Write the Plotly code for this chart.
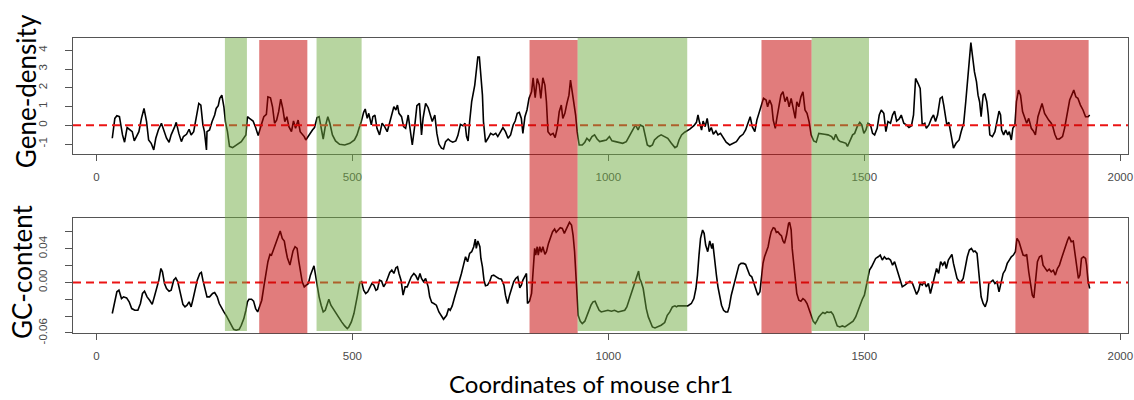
import plotly.graph_objects as go

# ---------------- data ----------------
gene_x = [31,36,40,45,51,55,60,65,70,74,78,83,88,93,98,102,107,112,116,121,127,132,137,142,146,153,156,161,166,170,176,181,185,190,196,200,204,208,211,215,216,221,226,231,234,238,241,245,249,252,256,260,266,273,283,292,295,299,306,311,316,322,327,332,335,340,344,348,352,356,360,364,368,372,376,381,385,389,394,398,402,406,409,413,418,422,426,431,435,439,443,447,452,456,461,467,475,485,495,504,509,513,517,522,525,529,532,537,540,544,548,553,558,563,568,573,577,581,585,588,591,596,600,604,609,613,617,622,626,631,635,638,643,648,652,656,661,665,669,674,678,682,687,691,696,702,706,711,716,720,723,726,729,733,739,742,745,748,750,754,756,760,765,770,775,780,784,789,794,799,804,809,814,818,822,826,830,833,837,841,845,850,853,857,861,865,868,872,876,879,882,887,892,896,900,904,908,911,915,919,923,926,930,932,936,939,943,949,954,958,963,968,973,978,983,989,996,1002,1007,1014,1021,1028,1035,1040,1045,1050,1053,1058,1062,1068,1071,1076,1081,1086,1090,1097,1103,1110,1116,1123,1130,1134,1138,1143,1149,1159,1167,1172,1175,1178,1182,1185,1189,1193,1197,1201,1205,1210,1214,1219,1224,1230,1237,1244,1250,1257,1263,1268,1273,1277,1281,1286,1290,1295,1299,1303,1308,1311,1315,1319,1322,1326,1329,1333,1337,1341,1345,1349,1353,1357,1361,1365,1368,1372,1376,1380,1384,1388,1392,1396,1401,1406,1411,1417,1422,1429,1436,1440,1444,1449,1453,1458,1464,1467,1471,1477,1481,1486,1491,1495,1499,1503,1507,1512,1516,1520,1525,1529,1533,1538,1542,1546,1551,1555,1559,1563,1568,1572,1577,1582,1587,1592,1596,1600,1605,1609,1613,1618,1621,1626,1631,1635,1639,1643,1648,1652,1655,1659,1661,1665,1670,1674,1679,1685,1689,1694,1698,1702,1705,1708,1711,1715,1719,1722,1725,1728,1732,1735,1739,1742,1745,1750,1755,1759,1763,1766,1768,1772,1776,1780,1783,1787,1790,1794,1797,1801,1805,1809,1813,1817,1821,1826,1830,1834,1839,1844,1847,1852,1857,1860,1865,1868,1872,1876,1881,1887,1891,1896,1901,1905,1909,1913,1917,1922,1927,1932,1937,1940]
gene_y = [-0.69,0.37,0.51,0.46,-0.51,-0.90,-0.12,-0.21,-0.34,-0.83,-0.60,-0.34,0.37,0.90,0.20,-0.78,-0.96,-1.31,-0.69,-0.25,0.11,-0.34,-0.69,-0.90,-0.51,-0.07,0.16,-0.43,-0.87,-0.60,-0.48,-0.21,-0.51,-0.34,0.55,1.17,1.08,0.02,-0.34,-1.31,-0.34,-0.25,0.20,0.55,0.90,1.05,1.44,1.61,0.99,0.20,-0.34,-1.13,-1.19,-1.05,-0.87,-0.51,0.46,0.37,0.23,-0.12,-0.55,0.02,0.46,0.59,1.52,1.47,0.99,0.11,0.28,0.73,1.40,0.90,0.20,0.46,-0.07,-0.34,0.23,-0.16,0.28,-0.34,-0.48,-0.60,-0.78,-0.60,-0.43,-0.25,-0.12,0.41,0.46,-0.25,-0.73,-0.07,0.46,0.11,-0.51,-0.83,-1.01,-1.05,-0.96,-0.78,-0.51,-0.16,0.16,0.69,0.87,0.37,0.64,0.02,0.46,0.55,-0.16,-0.51,0.11,-0.07,-0.34,0.16,0.59,0.99,0.82,1.08,0.64,0.46,-0.07,-0.16,0.55,-0.16,-1.05,0.02,1.05,1.17,-0.51,0.37,1.17,0.94,0.55,0.20,0.55,-0.43,-1.00,-1.22,-1.26,-0.87,-0.73,-0.83,-0.90,-0.83,-0.55,0.05,-0.02,0.11,-0.60,-0.83,0.20,1.26,2.15,3.03,3.65,3.65,2.94,1.61,0.20,-0.90,-0.69,-0.43,-0.51,-0.43,-0.60,-0.34,-0.12,-0.34,-0.69,-0.51,0.02,0.23,0.64,0.69,0.37,-0.43,0.46,0.82,1.44,1.79,2.54,1.47,2.50,2.15,1.44,2.54,2.15,1.26,-0.34,-0.51,-0.43,-0.66,-0.16,0.73,1.08,0.37,0.64,1.17,1.61,2.41,1.61,1.44,0.55,-0.34,-1.05,-1.05,-0.90,-0.69,-0.83,-0.60,-0.51,-0.73,-0.87,-0.83,-0.78,-0.60,-0.83,-0.87,-0.90,-0.96,-0.87,-0.60,-0.34,-0.07,0.02,-0.25,0.02,-0.07,-0.51,-1.05,-1.13,-1.05,-0.78,-0.60,-0.51,-0.60,-0.69,-0.96,-1.19,-1.13,-0.78,-0.51,-0.37,-0.20,-0.02,0.16,0.55,0.16,-0.25,0.23,-0.07,0.37,-0.34,-0.12,-0.48,-0.30,-0.51,-0.43,-0.66,-0.90,-1.05,-0.96,-0.87,-0.60,-0.48,-0.25,0.20,0.46,-0.07,-0.34,0.28,0.73,1.08,1.44,1.35,0.99,1.35,1.08,0.28,-0.16,0.37,0.90,1.61,1.79,1.26,1.52,0.99,1.44,0.90,0.37,1.26,0.99,1.52,1.79,0.82,0.64,0.20,-0.51,-0.83,-0.90,-0.43,-0.48,-0.48,-0.51,-0.60,-0.78,-0.48,-0.78,-0.87,-0.90,-0.96,-1.13,-0.87,-0.51,-0.43,-0.07,0.16,0.02,-0.43,-0.25,0.11,0.02,-0.43,-0.51,-0.16,0.55,0.82,0.64,-0.34,0.20,0.11,0.55,0.76,0.23,0.34,0.55,0.11,0.02,-0.12,-0.02,0.55,2.50,2.23,1.97,0.02,0.11,-0.16,0.02,0.37,0.55,0.20,0.55,1.44,1.52,1.08,0.37,0.02,0.16,-0.51,-1.22,-0.96,-0.78,-0.34,0.11,1.26,2.68,3.74,4.41,3.74,2.85,2.32,1.61,1.26,0.46,1.61,1.70,1.26,0.55,-0.51,-0.60,-0.34,0.20,0.76,0.55,-0.25,-0.51,-0.25,-0.51,-0.34,-0.78,-0.16,0.02,1.26,1.88,1.61,0.73,0.37,0.11,0.37,-0.16,-0.30,-0.51,0.46,0.99,1.17,0.64,0.37,0.28,0.11,-0.07,-0.48,-0.73,-0.73,-0.60,-0.16,0.55,1.35,1.61,1.88,1.52,1.44,1.08,0.82,0.46,0.46,0.55]

gc_x = [31,36,40,44,49,53,59,64,69,75,81,86,90,94,99,104,109,114,118,122,126,129,133,137,142,146,151,155,159,163,166,169,173,177,181,185,189,193,197,202,205,208,212,216,221,227,231,236,240,244,249,254,259,264,268,273,279,283,288,292,295,298,303,307,311,315,319,323,327,331,335,339,342,345,349,353,357,359,363,367,370,373,378,381,384,388,392,395,398,402,406,410,414,418,422,425,428,431,435,439,443,447,450,454,458,464,469,474,479,485,490,493,498,503,507,510,514,518,522,526,530,534,538,542,546,549,553,557,561,565,569,573,577,581,585,588,591,595,599,603,607,611,615,620,624,628,632,635,639,643,648,651,655,659,664,669,674,678,684,688,691,695,699,703,708,713,717,721,725,729,733,737,740,742,745,749,751,754,757,760,764,768,772,776,781,786,791,796,799,803,807,811,815,819,823,827,830,833,837,840,842,846,850,853,856,858,861,863,866,869,872,876,879,883,887,891,895,898,902,906,910,914,918,921,924,928,931,934,936,939,941,945,949,954,958,962,966,970,974,978,982,986,993,999,1006,1012,1019,1025,1032,1036,1040,1045,1050,1053,1056,1059,1061,1064,1068,1071,1074,1078,1082,1086,1091,1097,1103,1110,1115,1120,1125,1130,1133,1136,1142,1149,1155,1162,1167,1171,1174,1177,1180,1184,1187,1190,1194,1198,1202,1204,1208,1211,1214,1217,1221,1225,1229,1233,1236,1240,1244,1247,1251,1255,1259,1264,1268,1272,1276,1280,1284,1288,1292,1296,1299,1302,1305,1309,1312,1315,1318,1322,1325,1328,1331,1335,1338,1341,1344,1348,1352,1354,1357,1359,1362,1365,1368,1372,1376,1380,1384,1388,1392,1396,1400,1404,1408,1411,1415,1419,1423,1427,1431,1435,1439,1443,1447,1452,1457,1462,1467,1473,1478,1483,1488,1492,1496,1500,1504,1507,1510,1514,1518,1522,1527,1531,1535,1539,1543,1547,1551,1555,1559,1563,1566,1570,1574,1579,1583,1589,1594,1598,1602,1606,1609,1613,1617,1621,1625,1629,1633,1637,1641,1645,1649,1653,1657,1660,1664,1668,1671,1674,1678,1681,1685,1689,1693,1697,1701,1705,1709,1713,1716,1720,1723,1726,1728,1732,1736,1740,1743,1747,1751,1755,1759,1763,1767,1771,1775,1779,1783,1787,1791,1795,1798,1802,1806,1810,1814,1817,1821,1825,1828,1831,1834,1838,1842,1846,1849,1853,1857,1861,1865,1869,1873,1877,1881,1885,1889,1893,1897,1900,1904,1908,1912,1915,1918,1921,1924,1928,1932,1934,1937,1940]
gc_y = [-0.0369,-0.0211,-0.0111,-0.0092,-0.0191,-0.0171,-0.0183,-0.0230,-0.0310,-0.0330,-0.0330,-0.0250,-0.0131,-0.0104,-0.0171,-0.0211,-0.0260,-0.0151,-0.0052,0.0027,0.0166,0.0127,-0.0012,-0.0072,-0.0104,-0.0092,0.0027,0.0055,0.0008,-0.0111,-0.0171,-0.0260,-0.0290,-0.0270,-0.0230,-0.0290,-0.0191,-0.0092,0.0027,0.0107,0.0119,0.0027,-0.0092,-0.0171,-0.0171,-0.0131,-0.0119,-0.0171,-0.0250,-0.0302,-0.0350,-0.0397,-0.0460,-0.0516,-0.0556,-0.0567,-0.0556,-0.0508,-0.0429,-0.0330,-0.0230,-0.0199,-0.0199,-0.0222,-0.0310,-0.0350,-0.0290,-0.0211,-0.0052,0.0127,0.0246,0.0333,0.0325,0.0373,0.0444,0.0504,0.0563,0.0611,0.0523,0.0492,0.0385,0.0293,0.0206,0.0285,0.0373,0.0424,0.0404,0.0266,0.0146,0.0008,-0.0052,-0.0032,-0.0012,0.0087,0.0158,0.0198,0.0087,-0.0032,-0.0171,-0.0270,-0.0350,-0.0330,-0.0270,-0.0199,-0.0270,-0.0330,-0.0369,-0.0421,-0.0468,-0.0516,-0.0548,-0.0528,-0.0468,-0.0369,-0.0260,-0.0151,-0.0012,0.0008,-0.0092,-0.0131,-0.0111,-0.0052,-0.0012,-0.0032,-0.0092,-0.0080,0.0027,0.0015,-0.0052,-0.0012,0.0067,0.0119,0.0146,0.0107,0.0174,0.0186,0.0107,0.0027,-0.0151,-0.0052,-0.0052,0.0015,0.0067,0.0107,0.0079,0.0027,0.0107,0.0047,0.0008,0.0047,-0.0052,-0.0171,-0.0238,-0.0250,-0.0270,-0.0350,-0.0409,-0.0437,-0.0390,-0.0310,-0.0330,-0.0278,-0.0191,-0.0111,0.0008,0.0107,0.0206,0.0305,0.0246,0.0345,0.0365,0.0424,0.0515,0.0404,0.0492,0.0424,0.0285,0.0186,0.0027,-0.0040,-0.0032,0.0008,0.0079,0.0087,0.0067,0.0047,0.0039,-0.0032,-0.0151,-0.0250,-0.0151,-0.0080,0.0008,0.0047,0.0067,-0.0064,-0.0032,0.0027,0.0067,0.0107,-0.0250,-0.0222,-0.0131,0.0206,0.0404,0.0325,0.0424,0.0325,0.0424,0.0357,0.0424,0.0333,0.0365,0.0464,0.0543,0.0603,0.0635,0.0595,0.0623,0.0650,0.0642,0.0583,0.0635,0.0682,0.0714,0.0682,0.0563,0.0365,0.0107,-0.0191,-0.0390,-0.0460,-0.0488,-0.0460,-0.0390,-0.0330,-0.0270,-0.0230,-0.0222,-0.0278,-0.0330,-0.0350,-0.0341,-0.0330,-0.0341,-0.0330,-0.0350,-0.0341,-0.0330,-0.0290,-0.0222,-0.0131,-0.0032,0.0027,0.0087,0.0135,0.0047,0.0008,-0.0072,-0.0191,-0.0310,-0.0409,-0.0476,-0.0528,-0.0540,-0.0528,-0.0508,-0.0476,-0.0390,-0.0350,-0.0290,-0.0278,-0.0290,-0.0278,-0.0278,-0.0278,-0.0278,-0.0250,-0.0191,-0.0072,0.0087,0.0325,0.0523,0.0623,0.0583,0.0444,0.0365,0.0492,0.0404,0.0464,0.0285,0.0087,-0.0052,-0.0171,-0.0270,-0.0330,-0.0350,-0.0350,-0.0290,-0.0151,-0.0052,0.0027,0.0127,0.0206,0.0226,0.0226,0.0214,0.0146,0.0087,0.0067,-0.0012,-0.0092,-0.0151,-0.0111,0.0087,0.0226,0.0305,0.0385,0.0424,0.0523,0.0603,0.0650,0.0642,0.0595,0.0603,0.0571,0.0555,0.0492,0.0464,0.0563,0.0702,0.0714,0.0623,0.0404,0.0206,-0.0012,-0.0131,-0.0211,-0.0222,-0.0191,-0.0211,-0.0250,-0.0330,-0.0390,-0.0460,-0.0488,-0.0448,-0.0409,-0.0381,-0.0357,-0.0369,-0.0350,-0.0357,-0.0350,-0.0381,-0.0448,-0.0516,-0.0528,-0.0516,-0.0528,-0.0508,-0.0488,-0.0460,-0.0409,-0.0330,-0.0250,-0.0199,-0.0151,-0.0032,0.0067,0.0146,0.0186,0.0246,0.0285,0.0305,0.0325,0.0266,0.0305,0.0277,0.0285,0.0266,0.0206,0.0246,0.0166,0.0127,0.0027,-0.0052,-0.0032,-0.0012,0.0015,-0.0012,-0.0092,-0.0143,-0.0092,-0.0012,-0.0032,0.0008,-0.0052,-0.0012,-0.0131,-0.0012,0.0067,0.0166,0.0107,0.0246,0.0206,0.0246,0.0166,0.0266,0.0305,0.0333,0.0226,0.0107,0.0047,0.0015,0.0008,0.0047,0.0186,0.0305,0.0385,0.0404,0.0365,0.0373,0.0345,0.0166,-0.0012,-0.0171,-0.0250,-0.0290,-0.0211,-0.0012,0.0008,0.0027,-0.0012,0.0008,-0.0111,-0.0012,0.0107,0.0146,0.0226,0.0266,0.0305,0.0325,0.0365,0.0523,0.0484,0.0404,0.0325,0.0317,0.0333,0.0127,-0.0052,-0.0151,-0.0183,0.0008,0.0246,0.0305,0.0317,0.0206,0.0166,0.0135,0.0158,0.0127,0.0146,0.0087,0.0166,0.0206,0.0285,0.0365,0.0444,0.0504,0.0543,0.0484,0.0492,0.0325,0.0186,0.0047,0.0087,0.0285,0.0305,0.0285,0.0206,0.0008,-0.0072]

region_start = [251, 318, 430, 846, 940, 1299, 1397, 1795]
region_end = [294, 412, 518, 940, 1154, 1397, 1509, 1938]
region_kind = ["low", "high", "low", "high", "low", "high", "low", "high"]

x_ticks = [0, 500, 1000, 1500, 2000]
gene_ticks = [-1, 0, 1, 2, 3, 4]
gc_ticks = [-0.06, -0.04, -0.02, 0.0, 0.02, 0.04, 0.06]
gc_ticktext = ["-0.06", "", "", "0.00", "", "0.04", ""]

# ---------------- figure ----------------
fig = go.Figure()
fig.add_trace(go.Scatter(x=gene_x, y=gene_y, mode="lines", xaxis="x", yaxis="y",
                         line=dict(color="black", width=1.6), showlegend=False, hoverinfo="skip"))
fig.add_trace(go.Scatter(x=gc_x, y=gc_y, mode="lines", xaxis="x2", yaxis="y2",
                         line=dict(color="black", width=1.6), showlegend=False, hoverinfo="skip"))

shapes = []
# dashed zero lines
shapes.append(dict(type="line", xref="x domain", yref="y", x0=0, x1=1, y0=0, y1=0,
                   line=dict(color="rgb(235,20,20)", width=2, dash="8px,5px"), layer="above"))
shapes.append(dict(type="line", xref="x2 domain", yref="y2", x0=0, x1=1, y0=0, y1=0,
                   line=dict(color="rgb(235,20,20)", width=2, dash="8px,5px"), layer="above"))
# highlighted regions spanning both panels
for s, e, k in zip(region_start, region_end, region_kind):
    if k == "high":
        shapes.append(dict(type="rect", xref="x", yref="paper", x0=s, x1=e, y0=-0.001, y1=0.9932,
                           fillcolor="rgb(198,4,4)", opacity=0.52, line=dict(width=0), layer="above"))
    else:
        shapes.append(dict(type="rect", xref="x", yref="paper", x0=s, x1=e, y0=0.0068, y1=1.0,
                           fillcolor="rgb(112,172,66)", opacity=0.5, line=dict(width=0), layer="above"))

tickfont = dict(family="Liberation Sans, Arial, sans-serif", size=11.5, color="#4a4a4a")
xcommon = dict(range=[-45.7, 2014.9], tickvals=x_ticks, ticks="outside", ticklen=6,
               tickcolor="#555", showline=True, linecolor="#555", linewidth=1, mirror=True,
               showgrid=False, zeroline=False, tickfont=tickfont, ticklabelstandoff=6,
               automargin=False)
ycommon = dict(ticks="outside", ticklen=7, tickcolor="#555", showline=True, linecolor="#555",
               linewidth=1, mirror=True, showgrid=False, zeroline=False, tickangle=-90,
               tickfont=tickfont, ticklabelstandoff=13, automargin=False)

fig.update_layout(
    width=1134, height=400,
    margin=dict(l=73, r=6, t=38, b=67, pad=0, autoexpand=False),
    paper_bgcolor="white", plot_bgcolor="white",
    xaxis=dict(domain=[0, 1], anchor="y", **xcommon),
    yaxis=dict(domain=[0.6068, 1.0], anchor="x", range=[-1.53, 4.66], tickvals=gene_ticks,
               ticktext=[str(t) for t in gene_ticks], **ycommon),
    xaxis2=dict(domain=[0, 1], anchor="y2", **xcommon),
    yaxis2=dict(domain=[0, 0.3898], anchor="x2", range=[-0.06, 0.0765], tickvals=gc_ticks,
                ticktext=gc_ticktext, **ycommon),
    shapes=shapes,
    annotations=[
        dict(text="Gene-density", xref="paper", yref="paper", x=-0.0445, y=0.82,
             textangle=-90, showarrow=False, xanchor="center", yanchor="middle",
             font=dict(family="Lato, Open Sans, sans-serif", size=26, color="black")),
        dict(text="GC-content", xref="paper", yref="paper", x=-0.0483, y=0.2068,
             textangle=-90, showarrow=False, xanchor="center", yanchor="middle",
             font=dict(family="Lato, Open Sans, sans-serif", size=26, color="black")),
        dict(text="Coordinates of mouse chr1", xref="paper", yref="paper", x=0.491, y=-0.172,
             showarrow=False, xanchor="center", yanchor="middle",
             font=dict(family="Lato, Open Sans, sans-serif", size=24, color="black")),
    ],
)

fig.write_html("out.html")
